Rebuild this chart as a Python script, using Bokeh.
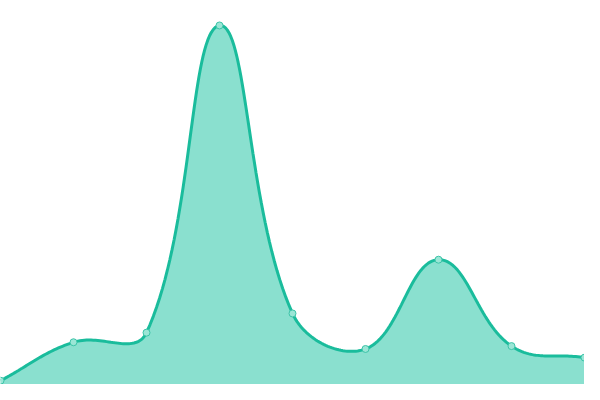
import numpy as np
from bokeh.plotting import figure
from bokeh.embed import file_html
from bokeh.resources import INLINE

# data (x positions and values)
x_vals = [0, 75, 150, 225, 300, 375, 450, 525, 600]
y_vals = [4, 44, 54, 374, 74, 37, 130, 40, 28]

TENSION = 0.4


def spline_controls(xs, ys, t):
    n = len(xs)
    ctrl = []
    for i in range(n):
        x1, y1 = xs[i], ys[i]
        x0, y0 = (xs[i - 1], ys[i - 1]) if i > 0 else (x1, y1)
        x2, y2 = (xs[i + 1], ys[i + 1]) if i < n - 1 else (x1, y1)
        d01 = np.hypot(x1 - x0, y1 - y0)
        d12 = np.hypot(x2 - x1, y2 - y1)
        tot = d01 + d12
        s01 = d01 / tot if tot else 0
        s12 = d12 / tot if tot else 0
        fa, fb = t * s01, t * s12
        prev = (x1 - fa * (x2 - x0), y1 - fa * (y2 - y0))
        nxt = (x1 + fb * (x2 - x0), y1 + fb * (y2 - y0))
        ctrl.append((prev, nxt))
    return ctrl


ctrl = spline_controls(x_vals, y_vals, TENSION)
cx, cy = [], []
ts = np.linspace(0, 1, 40)
for i in range(len(x_vals) - 1):
    p0 = np.array([x_vals[i], y_vals[i]], float)
    p1 = np.array(ctrl[i][1], float)
    p2 = np.array(ctrl[i + 1][0], float)
    p3 = np.array([x_vals[i + 1], y_vals[i + 1]], float)
    seg_t = ts if i == 0 else ts[1:]
    for t in seg_t:
        pt = ((1 - t) ** 3) * p0 + 3 * ((1 - t) ** 2) * t * p1 + 3 * (1 - t) * t * t * p2 + t ** 3 * p3
        cx.append(pt[0])
        cy.append(pt[1])

p = figure(width=584, height=384, x_range=(0, 600), y_range=(0, 400),
           output_backend="svg", toolbar_location=None, min_border=0)
p.axis.visible = False
p.grid.visible = False
p.outline_line_color = None
p.background_fill_color = "white"
p.border_fill_color = "white"

p.varea(x=cx, y1=[0] * len(cx), y2=cy, fill_color="#8ae0cf", fill_alpha=1.0)
p.line(cx, cy, line_color="#1abc9c", line_width=3)
p.scatter(x_vals, y_vals, size=7, fill_color="#9be6d6", line_color="#3cc4a8", line_width=1)

open("out.html", "w").write(file_html(p, INLINE))
